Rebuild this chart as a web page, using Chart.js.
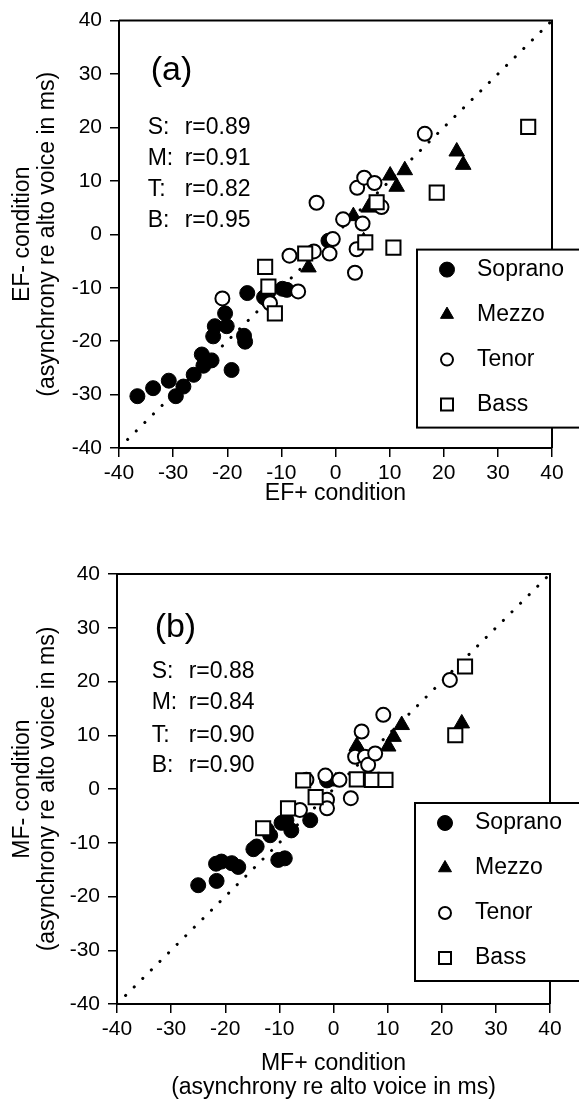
<!DOCTYPE html>
<html>
<head>
<meta charset="utf-8">
<script src="https://cdn.jsdelivr.net/npm/chart.js@4.4.0/dist/chart.umd.min.js"></script>
<style>
  html, body { margin: 0; padding: 0; background: #fff; }
  #boxA { position: absolute; left: 0; top: 0; }
  #boxB { position: absolute; left: 0; top: 540px; }
</style>
</head>
<body>
<div id="boxA"><canvas id="chartA" width="579" height="540"></canvas></div>
<div id="boxB"><canvas id="chartB" width="579" height="565"></canvas></div>
<script>
// voices and correlation values
var voices = ["Soprano", "Mezzo", "Tenor", "Bass"];
var voiceKeys = ["S", "M", "T", "B"];
var corrA = ["0.89", "0.91", "0.82", "0.95"];
var corrB = ["0.88", "0.84", "0.90", "0.90"];

// panel (a): EF+ (x) vs EF- (y), ms
var sopranoA = [[-36.6,-30.3],[-33.7,-28.8],[-30.8,-27.4],[-29.5,-30.3],[-28.1,-28.5],[-26.2,-26.3],
  [-24.4,-24.6],[-24.7,-22.5],[-22.9,-23.6],[-22.6,-19.1],[-22.3,-17.2],[-20.4,-14.8],[-20.1,-17.2],
  [-19.2,-25.4],[-16.9,-19.0],[-16.7,-20.1],[-16.3,-11.0],[-13.2,-11.8],[-12.4,-12.5],[-9.8,-10.2],
  [-9.0,-10.4],[-1.3,-1.2]];
var mezzoA = [[-5.0,-6.2],[3.3,3.4],[6.1,5.0],[5.2,-1.3],[10.1,11.0],[11.3,8.9],[12.8,12.0],[22.4,15.5],[23.6,13.0]];
var tenorA = [[-20.9,-12.0],[-12.1,-12.9],[-6.9,-10.7],[-8.5,-4.0],[-4.0,-3.2],[-1.1,-3.6],[-0.5,-0.9],
  [-3.5,5.9],[1.4,2.8],[3.9,-2.8],[3.6,-7.2],[4.0,8.7],[5.3,10.6],[7.2,9.6],[8.5,5.1],[5.0,2.0],[16.5,18.8]];
var bassA = [[-13.0,-6.1],[-12.4,-9.8],[-11.2,-14.8],[-5.6,-3.6],[5.5,-1.5],[7.6,6.0],[10.7,-2.5],[18.7,7.8],[35.6,20.1]];

// panel (b): MF+ (x) vs MF- (y), ms
var sopranoB = [[-25.0,-17.9],[-21.7,-13.9],[-21.6,-17.1],[-20.7,-13.5],[-18.8,-13.8],[-17.6,-14.5],
  [-14.8,-11.2],[-14.2,-10.7],[-12.3,-7.6],[-11.7,-8.6],[-9.6,-6.3],[-8.7,-5.8],[-7.8,-7.7],
  [-10.2,-13.2],[-9.0,-12.9],[-4.3,-5.8],[-1.2,1.6]];
var mezzoB = [[0.4,1.4],[4.3,8.0],[4.9,7.0],[10.1,7.9],[11.1,9.7],[12.6,11.9],[23.7,12.2]];
var tenorB = [[-6.2,-3.9],[-5.0,1.7],[-1.5,2.5],[-1.2,-2.0],[-1.2,-3.6],[1.1,1.7],[3.2,-1.7],[4.0,6.0],
  [5.8,6.0],[6.4,4.5],[7.7,6.6],[5.2,10.7],[9.2,13.8],[21.5,20.3]];
var bassB = [[-13.0,-7.3],[-8.4,-3.6],[-5.6,1.6],[-3.3,-1.5],[4.3,1.8],[7.1,1.7],[9.6,1.7],[22.5,10.0],[24.3,22.8]];

var axisMin = -40, axisMax = 40, axisStep = 10;
var FONT = "'Liberation Sans', Arial, Helvetica, sans-serif";

function toXY(pairs) {
  return pairs.map(function (p) { return { x: p[0], y: p[1] }; });
}

// marker styles shared by datasets and the hand drawn legend
var markerStyles = [
  { pointStyle: 'circle',   radius: 7.5, fill: '#000', width: 1 },
  { pointStyle: 'triangle', radius: 9,   fill: '#000', width: 1 },
  { pointStyle: 'circle',   radius: 7,   fill: '#fff', width: 2 },
  { pointStyle: 'rect',     radius: 10,  fill: '#fff', width: 2 }
];

function makeDatasets(series) {
  var sets = series.map(function (s, i) {
    var st = markerStyles[i];
    return {
      label: voices[i],
      data: toXY(s),
      pointStyle: st.pointStyle,
      pointRadius: st.radius,
      pointHoverRadius: st.radius,
      backgroundColor: st.fill,
      borderColor: '#000',
      borderWidth: st.width,
      order: 4 - i
    };
  });
  // dotted identity line
  sets.push({
    label: 'identity',
    data: [{ x: axisMin, y: axisMin }, { x: axisMax, y: axisMax }],
    showLine: true,
    borderColor: '#000',
    borderWidth: 3,
    borderDash: [0.1, 12],
    borderCapStyle: 'round',
    pointRadius: 0,
    order: 10
  });
  return sets;
}

function drawMarker(ctx, style, x, y, r) {
  ctx.beginPath();
  if (style === 'circle') {
    ctx.arc(x, y, r, 0, Math.PI * 2);
  } else if (style === 'triangle') {
    ctx.moveTo(x, y - r);
    ctx.lineTo(x + r * 0.866, y + r * 0.5);
    ctx.lineTo(x - r * 0.866, y + r * 0.5);
    ctx.closePath();
  } else {
    ctx.rect(x - r, y - r, 2 * r, 2 * r);
  }
  ctx.fill();
  ctx.stroke();
}

// frame, panel text and boxed legend
var panelPlugin = {
  id: 'panelDecor',
  afterDraw: function (chart, args, opts) {
    var ctx = chart.ctx, a = chart.chartArea;
    var xs = chart.scales.x, ys = chart.scales.y;
    ctx.save();
    ctx.strokeStyle = '#000';
    ctx.lineWidth = 2;
    ctx.beginPath();
    ctx.moveTo(a.left, a.top);
    ctx.lineTo(a.right, a.top);
    ctx.lineTo(a.right, a.bottom);
    ctx.stroke();

    var tx = xs.getPixelForValue(opts.textX);
    ctx.fillStyle = '#000';
    ctx.textAlign = 'left';
    ctx.textBaseline = 'middle';
    ctx.font = '34px ' + FONT;
    ctx.fillText(opts.label, tx + 3, ys.getPixelForValue(opts.labelY));
    ctx.font = '23px ' + FONT;
    opts.corr.forEach(function (r, i) {
      var py = ys.getPixelForValue(opts.linesY[i]);
      ctx.fillText(voiceKeys[i] + ':', tx, py);
      ctx.fillText('r=' + r, tx + 37, py);
    });

    // legend box
    var lx = a.right - 135, ly = a.top + 229;
    ctx.fillStyle = '#fff';
    ctx.fillRect(lx, ly, chart.width - lx + 5, 178);
    ctx.strokeRect(lx, ly, chart.width - lx + 5, 178);
    var sizes = [7.5, 7.5, 6, 6];
    voices.forEach(function (v, i) {
      var st = markerStyles[i];
      var cy = ly + 20 + i * 45;
      ctx.fillStyle = st.fill;
      ctx.lineWidth = st.width;
      drawMarker(ctx, st.pointStyle, lx + 30, cy, sizes[i]);
      ctx.fillStyle = '#000';
      ctx.fillText(v, lx + 60, cy);
    });
    ctx.restore();
  }
};

function makeChart(id, series, xTitle, yTitle, geom, decor) {
  var tickFont = { family: FONT, size: 21 };
  var titleFont = { family: FONT, size: 23, lineHeight: 1.05 };
  return new Chart(document.getElementById(id).getContext('2d'), {
    type: 'scatter',
    data: { datasets: makeDatasets(series) },
    options: {
      responsive: false,
      animation: false,
      events: [],
      layout: { padding: { top: geom.top, right: geom.right, left: 0, bottom: 0 } },
      plugins: {
        legend: { display: false },
        tooltip: { enabled: false },
        panelDecor: decor
      },
      scales: {
        x: {
          type: 'linear', min: axisMin, max: axisMax,
          ticks: { stepSize: axisStep, color: '#000', font: tickFont, padding: 4, maxRotation: 0 },
          grid: { drawOnChartArea: false, drawTicks: true, tickLength: 9, color: '#000', lineWidth: 1.5 },
          border: { display: true, color: '#000', width: 2 },
          title: { display: true, text: xTitle, color: '#000', font: titleFont, padding: { top: 0, bottom: geom.xTitlePad } },
          afterFit: function (s) { s.height = geom.xHeight; }
        },
        y: {
          type: 'linear', min: axisMin, max: axisMax,
          ticks: { stepSize: axisStep, color: '#000', font: tickFont, padding: 8 },
          grid: { drawOnChartArea: false, drawTicks: true, tickLength: 9, color: '#000', lineWidth: 1.5 },
          border: { display: true, color: '#000', width: 2 },
          title: { display: true, text: yTitle, color: '#000', font: titleFont, padding: { top: 11, bottom: 0 } },
          afterFit: function (s) { s.width = geom.yWidth; }
        }
      }
    },
    plugins: [panelPlugin]
  });
}

makeChart('chartA', [sopranoA, mezzoA, tenorA, bassA], 'EF+ condition',
  ['EF- condition', '(asynchrony re alto voice in ms)'],
  { top: 16, right: 27, yWidth: 119, xHeight: 92, xTitlePad: 34 },
  { label: '(a)', textX: -34.7, labelY: 30.6, linesY: [19.9, 14.1, 8.4, 2.6], corr: corrA });

makeChart('chartB', [sopranoB, mezzoB, tenorB, bassB],
  ['MF+ condition', '(asynchrony re alto voice in ms)'],
  ['MF- condition', '(asynchrony re alto voice in ms)'],
  { top: 34, right: 29, yWidth: 117, xHeight: 101, xTitlePad: 5 },
  { label: '(b)', textX: -33.6, labelY: 30.1, linesY: [21.8, 16.0, 10.0, 4.3], corr: corrB });
</script>
</body>
</html>
